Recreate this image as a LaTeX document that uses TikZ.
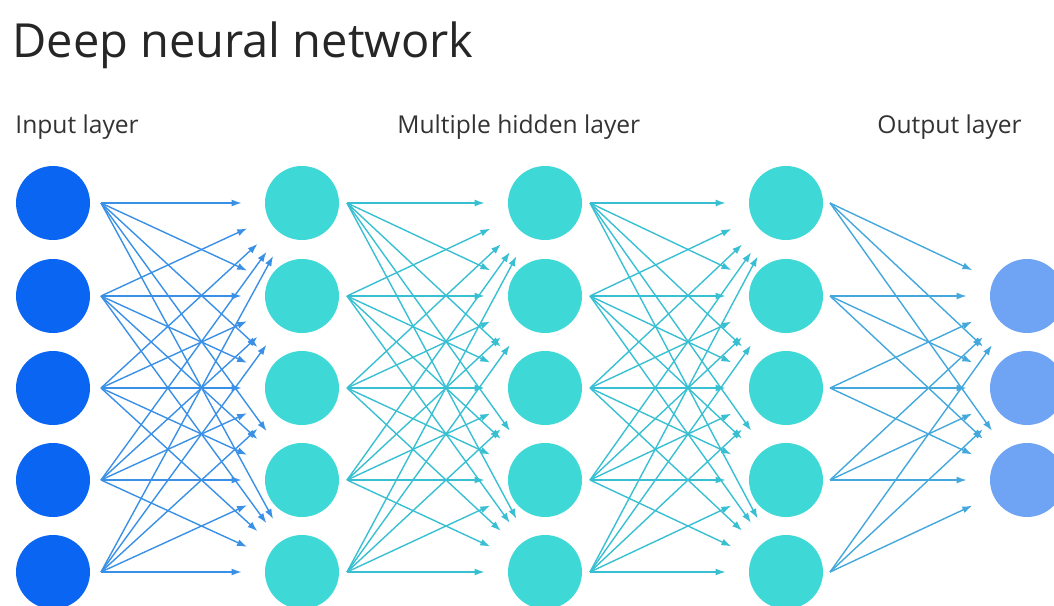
\documentclass[tikz,border=0pt]{standalone}
\usepackage{fontspec}
\setmainfont{Open Sans}
\usetikzlibrary{arrows.meta, positioning}
\definecolor{inblue}{HTML}{0A66F2}
\definecolor{hidteal}{HTML}{3ED8D6}
\definecolor{outblue}{HTML}{6FA3F4}
\definecolor{inedge}{HTML}{3A90E6}
\definecolor{hidedge}{HTML}{38C0D2}
\definecolor{outedge}{HTML}{44A8DC}

\begin{document}
\begin{tikzpicture}
  [
    x                  = 0.5pt,
    y                  = -0.5pt,
    neuron/.style      = {circle, minimum size=37pt, inner sep=0pt},
    link/.style        = {draw, line width=0.7pt, -{Latex[length=5pt, width=3.5pt]}, shorten >=11.5pt},
    layerlabel/.style  = {font=\fontsize{12.3}{14}\selectfont, text=black!80, anchor=base west, inner sep=0pt}
  ]
  \useasboundingbox (0,0) rectangle (1054,605);

  \node[anchor=base west, inner sep=0pt, font=\fontsize{23.5}{28}\selectfont, text=black!85] (title) at (12,57) {Deep neural network};
  \node[layerlabel] (inlabel) at (15,133) {Input layer};
  \node[layerlabel] (hidlabel) at (397,133) {Multiple hidden layer};
  \node[layerlabel] (outlabel) at (877,133) {Output layer};

  % neurons
  \foreach \r/\y in {1/203, 2/296, 3/388, 4/480, 5/572} {
    \node[neuron, fill=inblue] (in-\r) at (53,\y) {};
    \node[neuron, fill=hidteal] (hida-\r) at (302,\y) {};
    \node[neuron, fill=hidteal] (hidb-\r) at (545,\y) {};
    \node[neuron, fill=hidteal] (hidc-\r) at (786,\y) {};
    \coordinate (in-\r-o) at ([xshift=24pt]in-\r.center);
    \coordinate (hida-\r-o) at ([xshift=22.5pt]hida-\r.center);
    \coordinate (hidb-\r-o) at ([xshift=22.5pt]hidb-\r.center);
    \coordinate (hidc-\r-o) at ([xshift=22pt]hidc-\r.center);
  }
  \foreach \r/\y in {2/296, 3/388, 4/480}
    \node[neuron, fill=outblue] (out-\r) at (1027,\y) {};

  % connections
  \foreach \a in {1,...,5} {
    \foreach \b in {1,...,5} {
      \draw[link, inedge] (in-\a-o) -- (hida-\b);
      \draw[link, hidedge] (hida-\a-o) -- (hidb-\b);
      \draw[link, hidedge] (hidb-\a-o) -- (hidc-\b);
    }
    \foreach \b in {2,3,4}
      \draw[link, outedge] (hidc-\a-o) -- (out-\b);
  }
\end{tikzpicture}
\end{document}
